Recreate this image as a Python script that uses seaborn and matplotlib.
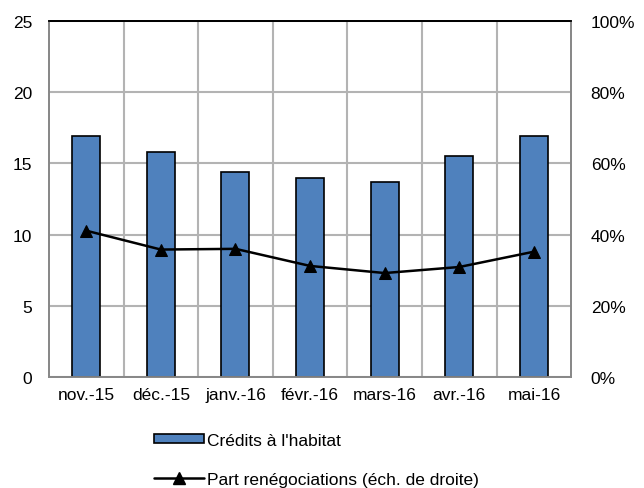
import matplotlib
matplotlib.use("Agg")
import matplotlib.pyplot as plt
import seaborn as sns
from matplotlib.ticker import MultipleLocator, FuncFormatter
from matplotlib.lines import Line2D
from matplotlib.patches import Patch

months = ['nov.-15', 'déc.-15', 'janv.-16', 'févr.-16', 'mars-16', 'avr.-16', 'mai-16']
credits = [16.9, 15.8, 14.4, 14.0, 13.7, 15.5, 16.9]
part_reneg = [41.1, 35.8, 36.0, 31.2, 29.2, 30.9, 35.2]

sns.set_theme(style="white")
plt.rcParams['font.family'] = ['Liberation Sans', 'DejaVu Sans']
fs = 12.5

fig = plt.figure(figsize=(6.44, 4.89), dpi=100)
ax = fig.add_axes([0.076, 0.227, 0.811, 0.728])

sns.barplot(x=months, y=credits, ax=ax, color='#4f81bd', saturation=1,
            width=0.375, edgecolor='black', linewidth=1.2, zorder=3)
ax.set_ylim(0, 25)
ax.set_xlim(-0.5, len(months) - 0.5)
ax.yaxis.set_major_locator(MultipleLocator(5))
ax.set_xticks(range(len(months)))
ax.set_xticklabels(months)
ax.set_xticks([i + 0.5 for i in range(len(months) - 1)], minor=True)
ax.grid(True, axis='y', which='major', color='#b3b3b3', linewidth=1.5, zorder=0)
ax.grid(True, axis='x', which='minor', color='#b3b3b3', linewidth=1.5, zorder=0)
ax.tick_params(axis='x', which='both', length=0, labelsize=fs, colors='black', pad=7)
ax.tick_params(axis='y', length=0, labelsize=fs, colors='black', pad=12)
ax.set_axisbelow(True)

ax2 = ax.twinx()
sns.lineplot(x=list(range(len(months))), y=part_reneg, ax=ax2, color='black',
             marker='^', markersize=9, markeredgecolor='black', linewidth=1.8, zorder=4)
ax2.set_ylim(0, 100)
ax2.yaxis.set_major_locator(MultipleLocator(20))
ax2.yaxis.set_major_formatter(FuncFormatter(lambda v, p: f"{int(v)}%"))
ax2.tick_params(axis='y', length=0, labelsize=fs, colors='black', pad=14)
ax2.grid(False)

for a in (ax, ax2):
    for name, s in a.spines.items():
        s.set_color('black' if name == 'top' else '#888888')
        s.set_linewidth(1.3)

handles = [
    Patch(facecolor='#4f81bd', edgecolor='black', linewidth=1.2),
    Line2D([0], [0], color='black', marker='^', markersize=8, linewidth=1.8),
]
labels = ["Crédits à l'habitat", "Part renégociations (éch. de droite)"]
fig.legend(handles, labels, loc='upper left', bbox_to_anchor=(0.22, 0.138),
           frameon=False, fontsize=fs, labelspacing=1.4, handlelength=2.9,
           handletextpad=0.15, handleheight=0.5, borderpad=0.2, labelcolor='black')

fig.savefig("out.png", dpi=100)
